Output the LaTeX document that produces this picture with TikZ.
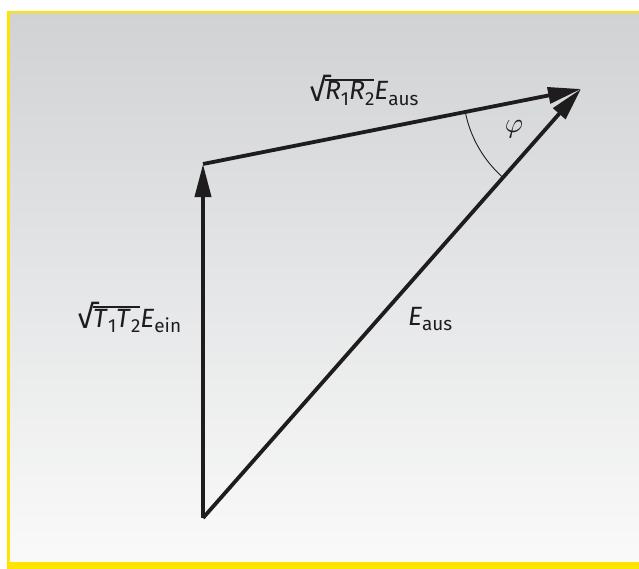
\documentclass[tikz,border=0pt]{standalone}
\usepackage{fontspec}
\setmainfont{Fira Sans}
\usetikzlibrary{arrows.meta,calc}
\definecolor{frameyellow}{RGB}{255,228,0}
\definecolor{bgtop}{RGB}{208,210,212}
\definecolor{bgbot}{RGB}{250,250,250}
\definecolor{ink}{RGB}{30,28,28}
\newcommand\mysub[1]{\raisebox{-0.22em}{\fontsize{19}{20}\selectfont #1}}
\newcommand\myrad[1]{\setbox0\hbox{#1}\raisebox{-0.05em}{\fontsize{31}{32}\selectfont √}\kern-0.05em\rlap{\rule[\dimexpr\ht0+1.2pt\relax]{\wd0}{1.2pt}}\box0}
\begin{document}
\begin{tikzpicture}[x=1bp,y=-1bp,
  vec/.style={draw=ink,line width=3.8bp,-{Triangle[length=33bp,width=16bp]}},
  lbl/.style={inner sep=0pt,anchor=base west,font=\fontsize{26.5}{30}\selectfont,text=ink}]
\useasboundingbox (0,0) rectangle (639,569);
\fill[white] (0,0) rectangle (639,569);
\shade[top color=bgtop,bottom color=bgbot] (8.5,12) rectangle (639,565);
\fill[frameyellow] (7,11) rectangle (639,13.5);
\fill[frameyellow] (7,11) rectangle (10,569);
\fill[frameyellow] (7,562) rectangle (639,569);
\coordinate (B) at (203,518);
\coordinate (L) at (203,164);
\coordinate (T) at (581,89);
\draw[vec] (B) -- (L);
\draw[vec] (L) -- (T);
\draw[vec] (B) -- (T);
\draw[ink,line width=0.9bp] ($(T)+(168.8:118)$) arc[start angle=168.8,end angle=131.4,radius=118];
\node[text=ink,inner sep=0pt] (phi) at (514,129) {\scalebox{2.8}{$\varphi$}};
\node[lbl] (lr) at (309,100) {\myrad{\textit{R}\mysub{1}\textit{R}\mysub{2}}\textit{E}\mysub{aus}};
\node[lbl] (lt) at (77,327) {\myrad{\textit{T}\mysub{1}\textit{T}\mysub{2}}\textit{E}\mysub{ein}};
\node[lbl] (le) at (408,325) {\textit{E}\mysub{aus}};
\end{tikzpicture}
\end{document}
